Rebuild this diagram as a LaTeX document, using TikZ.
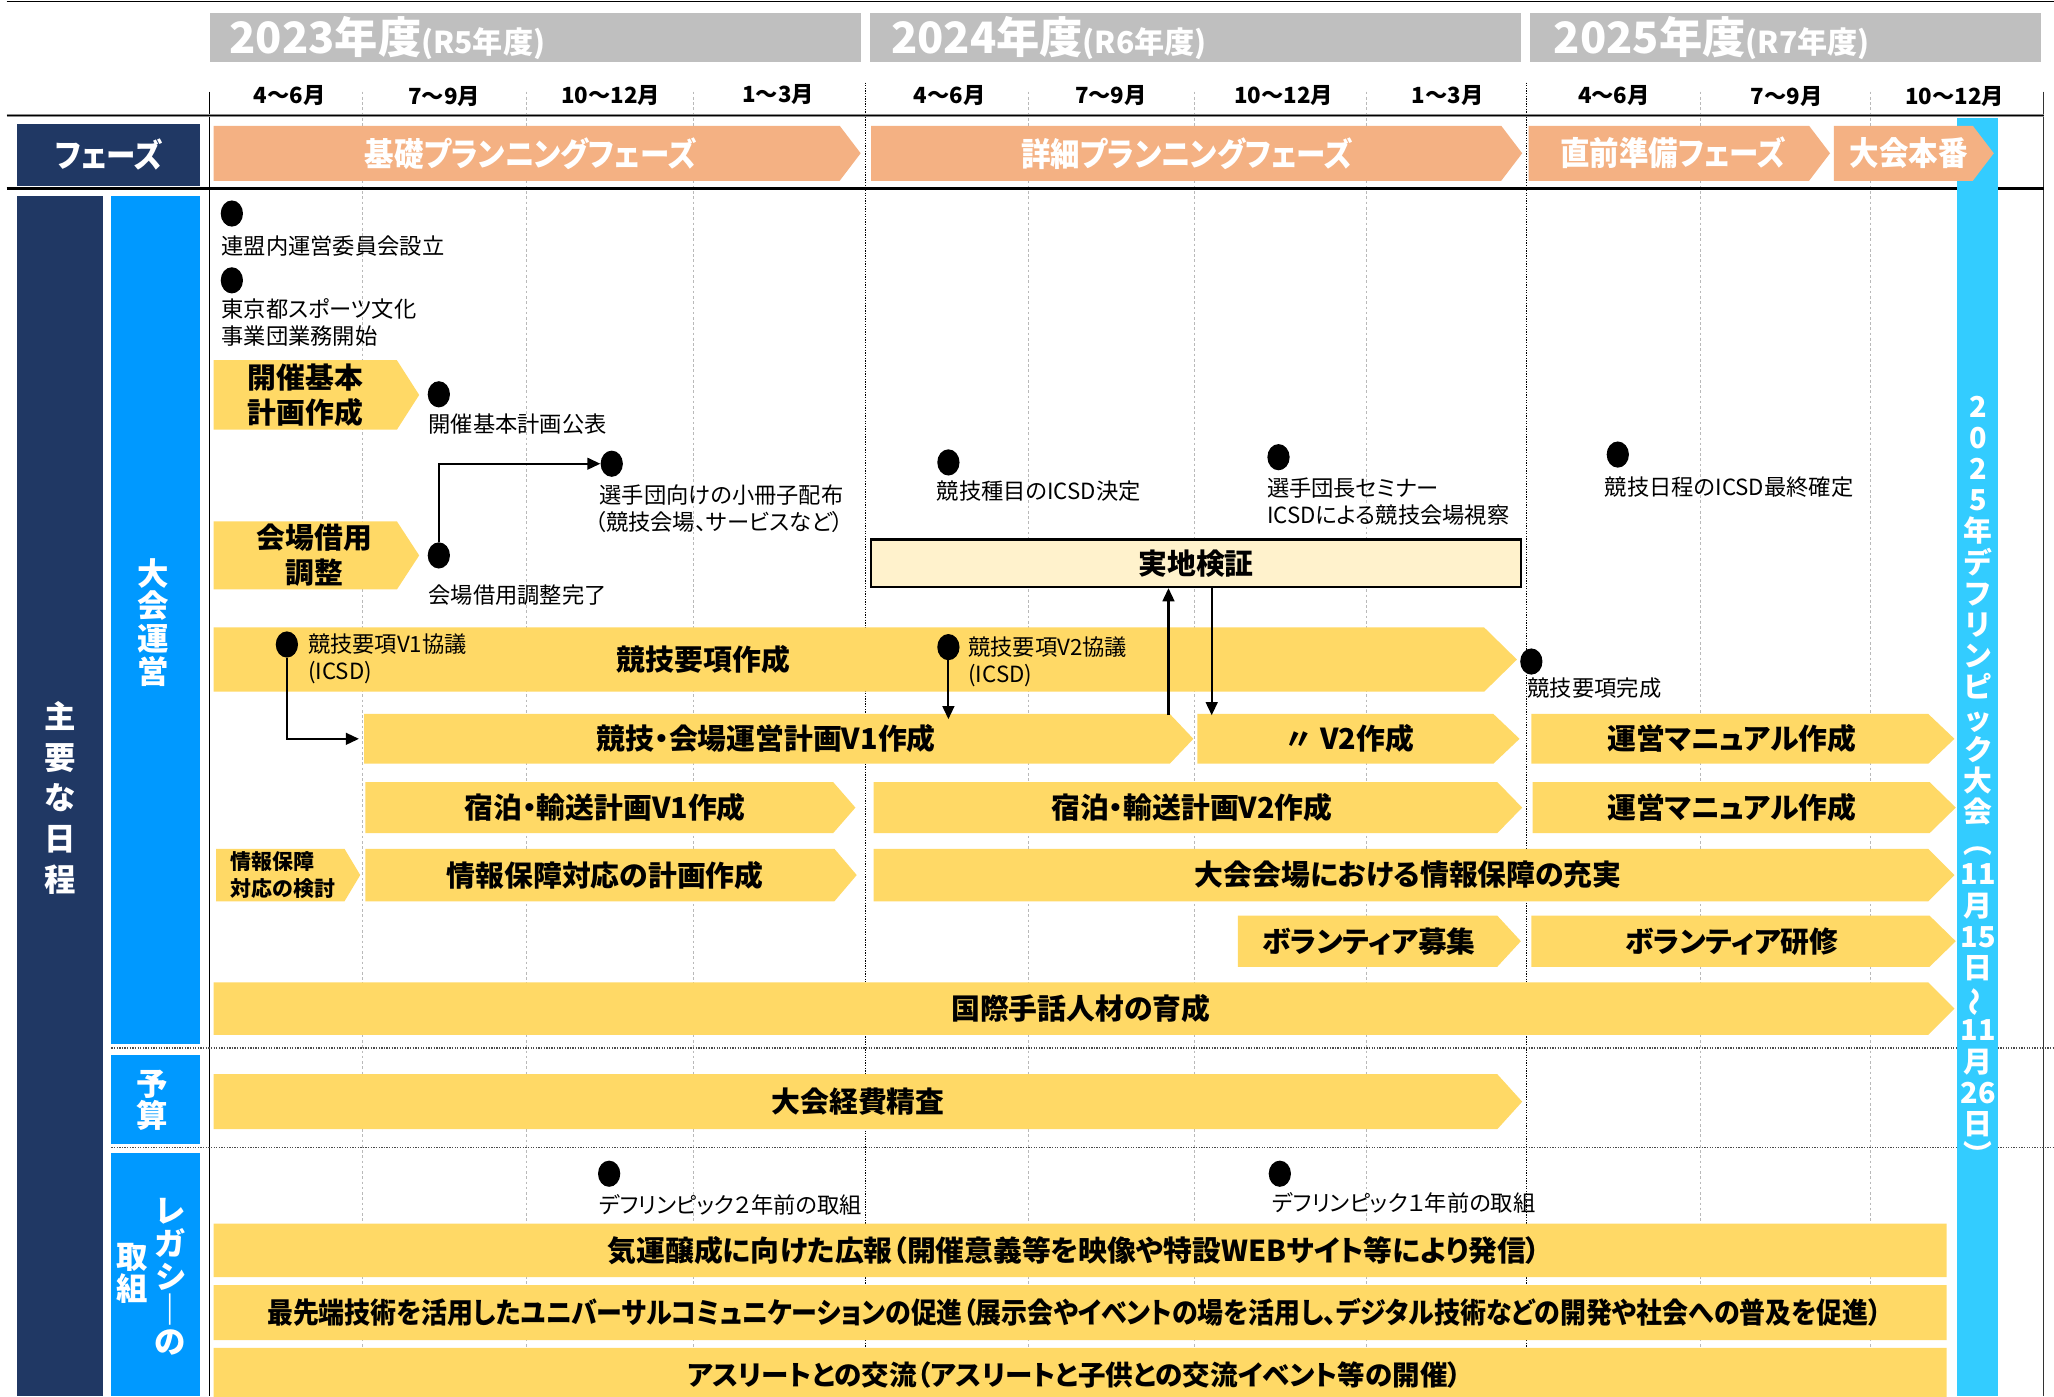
\documentclass[tikz,border=0pt]{standalone}
\usepackage{fontspec}
\setmainfont{Noto Sans CJK JP}[RawFeature=+palt]
\newfontfamily\jpcond{Noto Sans CJK JP}[RawFeature=+palt, FakeStretch=0.9]
\usepackage{graphicx}
\usetikzlibrary{shapes.geometric,arrows.meta,calc}
\definecolor{cbar}{HTML}{FFD966}
\definecolor{csalmon}{HTML}{F4B183}
\definecolor{cnavy}{HTML}{203864}
\definecolor{cblue}{HTML}{0099FF}
\definecolor{ccyan}{HTML}{33CCFF}
\definecolor{chdr}{HTML}{BFBFBF}
\definecolor{cjk}{HTML}{FFF2CC}
\tikzset{
 bartext/.style={font=\bfseries\fontsize{22}{27}\selectfont, inner sep=0pt, align=center},
 phasetext/.style={font=\jpcond\bfseries\fontsize{25}{28}\selectfont, text=white, inner sep=0pt},
 mtext/.style={font=\fontsize{17}{20.5}\selectfont, inner sep=0pt, align=left, anchor=west},
 dotm/.style={ellipse, fill=black, minimum width=17pt, minimum height=20pt, inner sep=0pt},
 conn/.style={line width=1.6pt, -{Triangle[length=10pt,width=9pt]}},
 qline/.style={gray!55, line width=0.6pt, dash pattern=on 2pt off 2pt},
 fyline/.style={black, line width=0.8pt, dash pattern=on 1pt off 1pt},
 hsep/.style={black!70, line width=0.9pt, dash pattern=on 1pt off 1pt},
 month/.style={font=\bfseries\fontsize{17}{17}\selectfont, inner sep=0pt},
 vlabel/.style={text=white, font=\bfseries\fontsize{24}{25}\selectfont, align=center, inner sep=0pt},
 yearhdr/.style={text=white, font=\bfseries, anchor=west, inner sep=0pt},
 jkbox/.style={fill=cjk, draw=black, line width=2pt, minimum width=496pt, minimum height=36pt, inner sep=0pt, font=\bfseries\fontsize{22}{24}\selectfont},
}
% yellow arrow bar: name, x1, xtip, y1, y2, tip, textx, text
\newcommand\mkybar[8]{%
 \fill[cbar] (#2,#4) -- ({#3-#6},#4) -- (#3,{(#4+#5)/2}) -- ({#3-#6},#5) -- (#2,#5) -- cycle;
 \coordinate (#1w) at (#2,{(#4+#5)/2});
 \coordinate (#1n) at (#2,#4);
 \node[bartext] (#1) at (#7,{(#4+#5)/2}) {#8};
}
\newcommand\mksbar[8]{%
 \fill[csalmon] (#2,#4) -- ({#3-#6},#4) -- (#3,{(#4+#5)/2}) -- ({#3-#6},#5) -- (#2,#5) -- cycle;
 \node[phasetext] (#1) at (#7,{(#4+#5)/2}) {#8};
}
\begin{document}
\begin{tikzpicture}[x=1pt,y=-1pt]
\useasboundingbox (0,0) rectangle (1568,1066);
\fill[white] (0,0) rectangle (1568,1066);

% top line
\draw[line width=1.2pt] (5,1) -- (1568,1);

% year headers
\fill[chdr] (160,10) rectangle (657,47);
\fill[chdr] (664,10) rectangle (1161,47);
\fill[chdr] (1168,10) rectangle (1558,47);
\node[yearhdr] (y23) at (175,29) {\fontsize{33}{33}\selectfont 2023年度\fontsize{23}{23}\selectfont(R5年度)};
\node[yearhdr] (y24) at (680,29) {\fontsize{33}{33}\selectfont 2024年度\fontsize{23}{23}\selectfont(R6年度)};
\node[yearhdr] (y25) at (1186,29) {\fontsize{33}{33}\selectfont 2025年度\fontsize{23}{23}\selectfont(R7年度)};

% month labels
\node[month] (q1) at (221,73) {4～6月};
\node[month] (q2) at (339,74) {7～9月};
\node[month] (q3) at (466,73) {10～12月};
\node[month] (q4) at (594,72) {1～3月};
\node[month] (q5) at (725,73) {4～6月};
\node[month] (q6) at (848,73) {7～9月};
\node[month] (q7) at (980,73) {10～12月};
\node[month] (q8) at (1105,73) {1～3月};
\node[month] (q9) at (1232,73) {4～6月};
\node[month] (q10) at (1364,74) {7～9月};
\node[month] (q11) at (1492,74) {10～12月};

% grid lines
\foreach \gx in {277,402,529,785,912,1043,1298,1428}
 \draw[qline] (\gx,70) -- (\gx,1066);
\foreach \gx in {661,1165}
 \draw[fyline] (\gx,63) -- (\gx,1066);
\draw[line width=1.2pt] (160,70) -- (160,1066);
\draw[line width=1pt, black!80] (1560,70) -- (1560,1066);
\draw[hsep] (85,800) -- (1568,800);
\draw[hsep] (85,876) -- (1568,876);

% horizontal rules of header
\draw[line width=2pt, black!45] (5,88) -- (1560,88);
\draw[line width=0.8pt] (5,88) -- (1560,88);
\draw[line width=2pt] (5,144) -- (1560,144);

% left labels
\fill[cnavy] (13,95) rectangle (153,142);
\node[phasetext] (fz) at (83,118) {フェーズ};
\fill[cnavy] (13,150) rectangle (79,1066);
\node[vlabel, font=\bfseries\fontsize{24}{31}\selectfont] (lmain) at (46,609) {主\\要\\な\\日\\程};
\fill[cblue] (85,150) rectangle (153,797);
\node[vlabel] (lops) at (117,475) {大\\会\\運\\営};
\fill[cblue] (85,805) rectangle (153,873);
\node[vlabel] (lbud) at (116,840) {予\\算};
\fill[cblue] (85,880) rectangle (153,1066);
\node[vlabel] (lleg1) at (130,975) {レ\\ガ\\シ\\｜\\の};
\node[vlabel] (lleg2) at (101,972) {取\\組};

% cyan tournament bar
\fill[ccyan] (1494,90) rectangle (1525,1066);
\node[text=white, font=\bfseries\fontsize{22}{23.8}\selectfont, align=center, inner sep=0pt] (tour) at (1510,596)
 {2\\0\\2\\5\\年\\デ\\フ\\リ\\ン\\ピ\\ッ\\ク\\大\\会\\︵\\11\\月\\15\\日\\\rotatebox[origin=c]{90}{～}\\11\\月\\26\\日\\︶};

% phase arrows
\mksbar{p1}{163}{657}{96}{138}{16}{405}{基礎プランニングフェーズ}
\mksbar{p2}{665}{1162}{96}{138}{16}{906}{詳細プランニングフェーズ}
\mksbar{p3}{1167}{1397}{96}{138}{16}{1277}{直前準備フェーズ}
\mksbar{p4}{1400}{1522}{96}{138}{16}{1457}{大会本番}

% early milestones
\node[dotm] (m1) at (177,163) {};
\node[mtext] (t1) at (169,188) {連盟内運営委員会設立};
\node[dotm] (m2) at (177,214) {};
\node[mtext] (t2) at (169,246) {東京都スポーツ文化\\事業団業務開始};

\mkybar{bplan}{163}{320}{275}{328}{17}{233}{開催基本\\計画作成}
\node[dotm] (m3) at (335,301) {};
\node[mtext] (t3) at (327,324) {開催基本計画公表};

\mkybar{bvenue}{163}{320}{398}{450}{17}{240}{会場借用\\調整}
\node[dotm] (m4) at (335,424) {};
\node[mtext] (t4) at (327,454) {会場借用調整完了};
\node[dotm] (m5) at (467,354) {};
\node[mtext, anchor=east, align=right] (t5) at (644,388) {選手団向けの小冊子配布\\（競技会場、サービスなど）};
\draw[conn] (m4.north) |- (m5.west);

\node[dotm] (m6) at (724,353) {};
\node[mtext] (t6) at (715,375) {競技種目のICSD決定};
\node[dotm] (m7) at (976,349) {};
\node[mtext] (t7) at (967,383) {選手団長セミナー\\ICSDによる競技会場視察};
\node[dotm] (m8) at (1235,347) {};
\node[mtext] (t8) at (1225,372) {競技日程のICSD最終確定};

% field verification box
\node[jkbox] (jk) at (913,430) {実地検証};

% competition spec
\mkybar{bspec}{163}{1158}{479}{528}{25}{537}{競技要項作成}
\node[dotm] (m9) at (219,492) {};
\node[mtext] (t9) at (235,503) {競技要項V1協議\\(ICSD)};
\node[dotm] (m10) at (724,494) {};
\node[mtext] (t10) at (739,505) {競技要項V2協議\\(ICSD)};
\node[dotm] (m11) at (1169,505) {};
\node[mtext] (t11) at (1166,525) {競技要項完成};

% row: plans
\mkybar{bv1}{278}{911}{545}{583}{18}{585}{競技・会場運営計画V1作成}
\mkybar{bv2}{914}{1160}{545}{583}{20}{1030}{〃 V2作成}
\mkybar{bman1}{1169}{1492}{545}{583}{20}{1322}{運営マニュアル作成}

\draw[conn] (m9.south) |- ([xshift=-4pt]bv1w);
\draw[conn] (m10.south) -- ([yshift=-4pt]m10.south |- bv1n);
\coordinate (a1) at (892,546);
\coordinate (a2) at (925,546);
\draw[conn] (a1) -- (a1 |- jk.south);
\draw[conn] (a2 |- jk.south) -- (a2);

\mkybar{blod1}{279}{653}{597}{636}{17}{462}{宿泊・輸送計画V1作成}
\mkybar{blod2}{667}{1162}{597}{636}{19}{910}{宿泊・輸送計画V2作成}
\mkybar{bman2}{1170}{1493}{597}{636}{20}{1322}{運営マニュアル作成}

\mkybar{binfo0}{165}{275}{648}{688}{12}{217}{}
\node[inner sep=0pt, align=left, anchor=west, font=\bfseries\fontsize{16}{20}\selectfont] (tinfo0) at (176,668) {情報保障\\対応の検討};
\mkybar{binfo1}{279}{654}{648}{688}{17}{462}{情報保障対応の計画作成}
\mkybar{binfo2}{667}{1492}{648}{688}{20}{1075}{大会会場における情報保障の充実}

\mkybar{bvol1}{945}{1161}{699}{738}{18}{1045}{ボランティア募集}
\mkybar{bvol2}{1169}{1493}{699}{738}{20}{1322}{ボランティア研修}

\mkybar{bsign}{163}{1492}{750}{790}{20}{825}{国際手話人材の育成}

% budget
\mkybar{bcost}{163}{1162}{820}{862}{19}{655}{大会経費精査}

% legacy
\node[dotm] (m12) at (465,896) {};
\node[mtext] (t12) at (457,920) {デフリンピック２年前の取組};
\node[dotm] (m13) at (977,896) {};
\node[mtext] (t13) at (971,918) {デフリンピック１年前の取組};
\mkybar{bleg1}{163}{1486}{934}{975}{0}{820}{\fontsize{22}{24}\selectfont 気運醸成に向けた広報（開催意義等を映像や特設WEBサイト等により発信）}
\mkybar{bleg2}{163}{1486}{981}{1023}{0}{820}{\jpcond\bfseries\fontsize{22}{24}\selectfont 最先端技術を活用したユニバーサルコミュニケーションの促進（展示会やイベントの場を活用し、デジタル技術などの開発や社会への普及を促進）}
\mkybar{bleg3}{163}{1486}{1029}{1070}{0}{820}{\fontsize{21}{24}\selectfont アスリートとの交流（アスリートと子供との交流イベント等の開催）}

\end{tikzpicture}
\end{document}
